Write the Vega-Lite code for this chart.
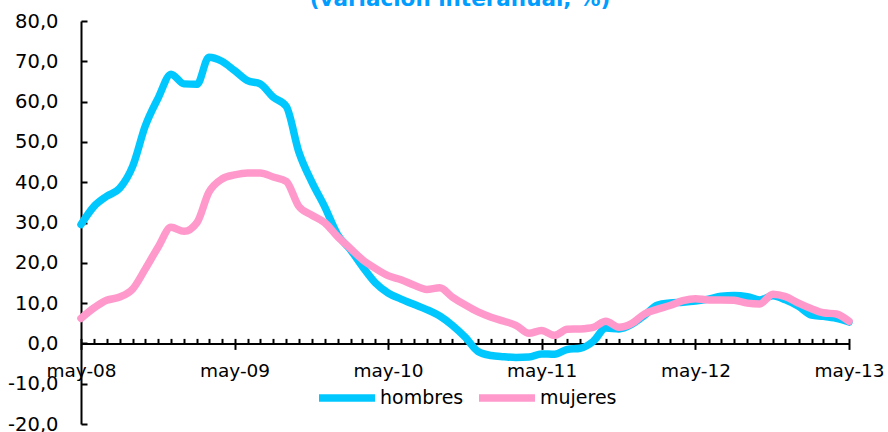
{
"$schema": "https://vega.github.io/schema/vega-lite/v6.json",
"width": 768, "height": 403,
"autosize": "none",
"padding": {"left": 81, "top": 21, "right": 39, "bottom": 8},
"background": "white",
"config": {"view": {"stroke": null}, "font": "DejaVu Sans"},
"title": {"text": "(variación interanual, %)", "color": "#009DFF", "fontSize": 21.5, "fontWeight": "bold", "font": "DejaVu Sans", "frame": "group", "anchor": "middle", "baseline": "alphabetic", "offset": -16, "dx": -5},
"data": {"values": [
{"fecha":"2008-05-01","sexo":"hombres","valor":29.5},{"fecha":"2008-06-01","sexo":"hombres","valor":34},{"fecha":"2008-07-01","sexo":"hombres","valor":36.5},{"fecha":"2008-08-01","sexo":"hombres","valor":38.5},{"fecha":"2008-09-01","sexo":"hombres","valor":44},{"fecha":"2008-10-01","sexo":"hombres","valor":54},{"fecha":"2008-11-01","sexo":"hombres","valor":61},{"fecha":"2008-12-01","sexo":"hombres","valor":66.8},{"fecha":"2009-01-01","sexo":"hombres","valor":64.4},{"fecha":"2009-02-01","sexo":"hombres","valor":64.3},{"fecha":"2009-03-01","sexo":"hombres","valor":71},{"fecha":"2009-04-01","sexo":"hombres","valor":70},{"fecha":"2009-05-01","sexo":"hombres","valor":67.7},{"fecha":"2009-06-01","sexo":"hombres","valor":65.2},{"fecha":"2009-07-01","sexo":"hombres","valor":64.4},{"fecha":"2009-08-01","sexo":"hombres","valor":61.1},{"fecha":"2009-09-01","sexo":"hombres","valor":58.8},{"fecha":"2009-10-01","sexo":"hombres","valor":47.5},{"fecha":"2009-11-01","sexo":"hombres","valor":40},{"fecha":"2009-12-01","sexo":"hombres","valor":34},{"fecha":"2010-01-01","sexo":"hombres","valor":27},{"fecha":"2010-02-01","sexo":"hombres","valor":23.2},{"fecha":"2010-03-01","sexo":"hombres","valor":19.1},{"fecha":"2010-04-01","sexo":"hombres","valor":15},{"fecha":"2010-05-01","sexo":"hombres","valor":12.5},{"fecha":"2010-06-01","sexo":"hombres","valor":11},{"fecha":"2010-07-01","sexo":"hombres","valor":9.7},{"fecha":"2010-08-01","sexo":"hombres","valor":8.4},{"fecha":"2010-09-01","sexo":"hombres","valor":6.8},{"fecha":"2010-10-01","sexo":"hombres","valor":4.5},{"fecha":"2010-11-01","sexo":"hombres","valor":1.5},{"fecha":"2010-12-01","sexo":"hombres","valor":-2},{"fecha":"2011-01-01","sexo":"hombres","valor":-3},{"fecha":"2011-02-01","sexo":"hombres","valor":-3.3},{"fecha":"2011-03-01","sexo":"hombres","valor":-3.5},{"fecha":"2011-04-01","sexo":"hombres","valor":-3.4},{"fecha":"2011-05-01","sexo":"hombres","valor":-2.6},{"fecha":"2011-06-01","sexo":"hombres","valor":-2.7},{"fecha":"2011-07-01","sexo":"hombres","valor":-1.5},{"fecha":"2011-08-01","sexo":"hombres","valor":-1.2},{"fecha":"2011-09-01","sexo":"hombres","valor":0.5},{"fecha":"2011-10-01","sexo":"hombres","valor":3.8},{"fecha":"2011-11-01","sexo":"hombres","valor":3.6},{"fecha":"2011-12-01","sexo":"hombres","valor":4.7},{"fecha":"2012-01-01","sexo":"hombres","valor":7},{"fecha":"2012-02-01","sexo":"hombres","valor":9.5},{"fecha":"2012-03-01","sexo":"hombres","valor":10},{"fecha":"2012-04-01","sexo":"hombres","valor":10.2},{"fecha":"2012-05-01","sexo":"hombres","valor":10.5},{"fecha":"2012-06-01","sexo":"hombres","valor":11},{"fecha":"2012-07-01","sexo":"hombres","valor":11.7},{"fecha":"2012-08-01","sexo":"hombres","valor":11.9},{"fecha":"2012-09-01","sexo":"hombres","valor":11.6},{"fecha":"2012-10-01","sexo":"hombres","valor":10.8},{"fecha":"2012-11-01","sexo":"hombres","valor":11.8},{"fecha":"2012-12-01","sexo":"hombres","valor":10.8},{"fecha":"2013-01-01","sexo":"hombres","valor":9.2},{"fecha":"2013-02-01","sexo":"hombres","valor":7},{"fecha":"2013-03-01","sexo":"hombres","valor":6.7},{"fecha":"2013-04-01","sexo":"hombres","valor":6.2},{"fecha":"2013-05-01","sexo":"hombres","valor":5.3},
{"fecha":"2008-05-01","sexo":"mujeres","valor":6.2},{"fecha":"2008-06-01","sexo":"mujeres","valor":8.8},{"fecha":"2008-07-01","sexo":"mujeres","valor":10.7},{"fecha":"2008-08-01","sexo":"mujeres","valor":11.5},{"fecha":"2008-09-01","sexo":"mujeres","valor":13.5},{"fecha":"2008-10-01","sexo":"mujeres","valor":18.5},{"fecha":"2008-11-01","sexo":"mujeres","valor":24},{"fecha":"2008-12-01","sexo":"mujeres","valor":28.8},{"fecha":"2009-01-01","sexo":"mujeres","valor":27.8},{"fecha":"2009-02-01","sexo":"mujeres","valor":30},{"fecha":"2009-03-01","sexo":"mujeres","valor":37.5},{"fecha":"2009-04-01","sexo":"mujeres","valor":40.8},{"fecha":"2009-05-01","sexo":"mujeres","valor":41.8},{"fecha":"2009-06-01","sexo":"mujeres","valor":42.3},{"fecha":"2009-07-01","sexo":"mujeres","valor":42.3},{"fecha":"2009-08-01","sexo":"mujeres","valor":41.3},{"fecha":"2009-09-01","sexo":"mujeres","valor":40.2},{"fecha":"2009-10-01","sexo":"mujeres","valor":34},{"fecha":"2009-11-01","sexo":"mujeres","valor":31.8},{"fecha":"2009-12-01","sexo":"mujeres","valor":30},{"fecha":"2010-01-01","sexo":"mujeres","valor":26.5},{"fecha":"2010-02-01","sexo":"mujeres","valor":23.5},{"fecha":"2010-03-01","sexo":"mujeres","valor":20.8},{"fecha":"2010-04-01","sexo":"mujeres","valor":18.6},{"fecha":"2010-05-01","sexo":"mujeres","valor":16.8},{"fecha":"2010-06-01","sexo":"mujeres","valor":15.8},{"fecha":"2010-07-01","sexo":"mujeres","valor":14.5},{"fecha":"2010-08-01","sexo":"mujeres","valor":13.4},{"fecha":"2010-09-01","sexo":"mujeres","valor":13.8},{"fecha":"2010-10-01","sexo":"mujeres","valor":11.5},{"fecha":"2010-11-01","sexo":"mujeres","valor":9.5},{"fecha":"2010-12-01","sexo":"mujeres","valor":7.8},{"fecha":"2011-01-01","sexo":"mujeres","valor":6.5},{"fecha":"2011-02-01","sexo":"mujeres","valor":5.5},{"fecha":"2011-03-01","sexo":"mujeres","valor":4.5},{"fecha":"2011-04-01","sexo":"mujeres","valor":2.5},{"fecha":"2011-05-01","sexo":"mujeres","valor":3.2},{"fecha":"2011-06-01","sexo":"mujeres","valor":2},{"fecha":"2011-07-01","sexo":"mujeres","valor":3.5},{"fecha":"2011-08-01","sexo":"mujeres","valor":3.6},{"fecha":"2011-09-01","sexo":"mujeres","valor":4},{"fecha":"2011-10-01","sexo":"mujeres","valor":5.5},{"fecha":"2011-11-01","sexo":"mujeres","valor":4},{"fecha":"2011-12-01","sexo":"mujeres","valor":4.9},{"fecha":"2012-01-01","sexo":"mujeres","valor":7.3},{"fecha":"2012-02-01","sexo":"mujeres","valor":8.5},{"fecha":"2012-03-01","sexo":"mujeres","valor":9.4},{"fecha":"2012-04-01","sexo":"mujeres","valor":10.6},{"fecha":"2012-05-01","sexo":"mujeres","valor":11.1},{"fecha":"2012-06-01","sexo":"mujeres","valor":10.8},{"fecha":"2012-07-01","sexo":"mujeres","valor":10.8},{"fecha":"2012-08-01","sexo":"mujeres","valor":10.7},{"fecha":"2012-09-01","sexo":"mujeres","valor":10},{"fecha":"2012-10-01","sexo":"mujeres","valor":9.8},{"fecha":"2012-11-01","sexo":"mujeres","valor":12.2},{"fecha":"2012-12-01","sexo":"mujeres","valor":11.6},{"fecha":"2013-01-01","sexo":"mujeres","valor":10},{"fecha":"2013-02-01","sexo":"mujeres","valor":8.6},{"fecha":"2013-03-01","sexo":"mujeres","valor":7.6},{"fecha":"2013-04-01","sexo":"mujeres","valor":7.3},{"fecha":"2013-05-01","sexo":"mujeres","valor":5.5}
]},
"layer": [
{
"mark": {"type": "rule", "opacity": 0},
"encoding": {
"x": {"field": "fecha", "type": "temporal",
"scale": {"type": "utc", "nice": false, "domain": [{"year": 2008, "month": 5, "date": 1, "utc": true}, {"year": 2013, "month": 5, "date": 1, "utc": true}]},
"axis": {"orient": "bottom", "offset": -80.6, "title": null, "labels": false, "domain": false, "grid": false, "ticks": true, "tickSize": -5, "tickWidth": 2, "tickColor": "black", "tickCount": {"interval": "month", "step": 1}}}
}
},
{
"mark": {"type": "line", "interpolate": "monotone", "strokeWidth": 7.5, "strokeCap": "round", "strokeJoin": "round"},
"encoding": {
"x": {"field": "fecha", "type": "temporal",
"axis": {"orient": "bottom", "offset": -80.6, "title": null, "grid": false, "domainColor": "black", "domainWidth": 2, "tickColor": "black", "tickWidth": 2, "tickSize": 6,
"values": [{"year": 2008, "month": 5, "date": 1, "utc": true}, {"year": 2009, "month": 5, "date": 1, "utc": true}, {"year": 2010, "month": 5, "date": 1, "utc": true}, {"year": 2011, "month": 5, "date": 1, "utc": true}, {"year": 2012, "month": 5, "date": 1, "utc": true}, {"year": 2013, "month": 5, "date": 1, "utc": true}],
"labelExpr": "lower(utcFormat(datum.value, '%b-%y'))", "labelFontSize": 18.5, "labelFont": "DejaVu Sans", "labelColor": "black", "labelPadding": 12, "labelFlush": false, "labelOverlap": false}},
"y": {"field": "valor", "type": "quantitative",
"scale": {"domain": [-20, 80], "nice": false, "zero": false},
"axis": {"title": null, "grid": false, "values": [-20, -10, 0, 10, 20, 30, 40, 50, 60, 70, 80],
"labelExpr": "(datum.value < 0 ? '-' : '') + replace(format(abs(datum.value), '.1f'), '.', ',')",
"domainColor": "black", "domainWidth": 2, "tickColor": "black", "tickWidth": 2, "tickSize": -6,
"labelFontSize": 19.5, "labelFont": "DejaVu Sans", "labelColor": "black", "labelPadding": 29}},
"color": {"field": "sexo", "type": "nominal",
"scale": {"domain": ["hombres", "mujeres"], "range": ["#00C8FF", "#FF99CC"]},
"legend": {"orient": "none", "legendX": 234, "legendY": 345, "direction": "horizontal", "title": null, "symbolType": "stroke", "symbolSize": 3136, "symbolStrokeWidth": 7.5, "labelFontSize": 19, "labelFont": "DejaVu Sans", "labelColor": "black", "columnPadding": 0, "labelOffset": 1, "padding": 0}}
}
}
],
"resolve": {"axis": {"x": "independent"}}
}
